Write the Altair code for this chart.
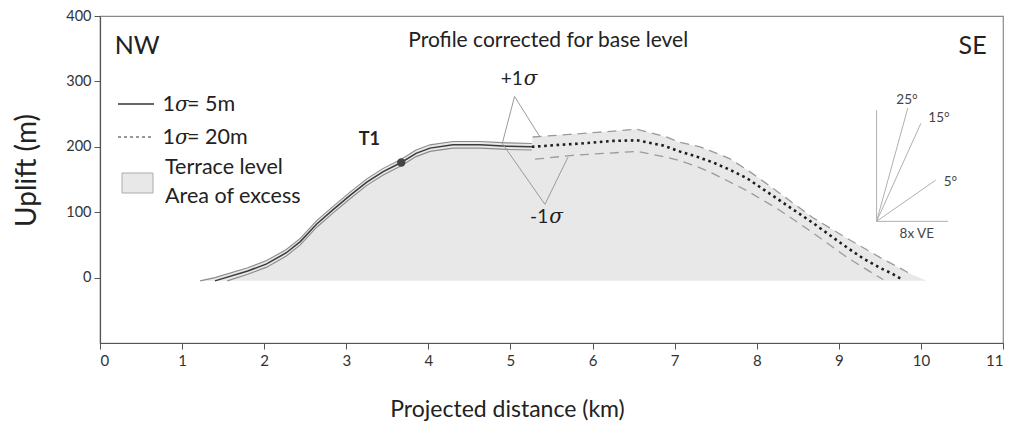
import altair as alt
import pandas as pd

# ---- Profile data (distance in km, uplift in m) ----
# Terrace profile, well-constrained part (1 sigma = 5 m)
solid_x = [1.40, 1.80, 2.03, 2.27, 2.44, 2.64, 2.84, 3.05, 3.25, 3.45, 3.67, 3.85, 4.02, 4.30, 4.63, 4.96, 5.26]
solid_y = [-5, 10, 21, 38, 55, 82, 104, 126, 146, 162, 176, 190, 198, 203, 203, 201, 200]
SIGMA_SOLID = 5
band_upper_start = (1.22, -5)
band_lower_start = (1.55, -5)

# Terrace profile, poorly-constrained part (1 sigma = 20 m)
dot_x = [5.26, 5.60, 5.85, 6.25, 6.54, 6.86, 7.06, 7.27, 7.47, 7.67, 7.88, 8.08, 8.28, 8.48, 8.68, 8.90, 9.10, 9.30, 9.50, 9.65, 9.77]
dot_y = [200, 203, 205, 209, 210, 202, 193, 185, 176, 165, 152, 135, 118, 101, 84, 64, 46, 29, 15, 6, -3]

up_x = [5.27, 5.72, 6.05, 6.54, 6.90, 7.06, 7.31, 7.67, 7.95, 8.28, 8.68, 9.10, 9.50, 9.87]
up_y = [215, 219, 222, 227, 215, 207, 200, 182, 159, 129, 92, 60, 31, 6]

lo_x = [5.30, 5.76, 6.54, 6.90, 7.06, 7.27, 7.47, 7.88, 8.28, 8.68, 9.10, 9.42, 9.54]
lo_y = [181, 187, 193, 184, 179, 170, 159, 133, 103, 69, 31, 6, -3]

BASE = -5
fill_end = (10.07, -5)

# Terrace point T1
t1 = (3.67, 176)

# Sigma callout polylines: end, apex, end
plus_pts = [(4.90, 205), (5.05, 277), (5.36, 215)]
minus_pts = [(4.89, 207), (5.42, 112), (5.70, 184)]

# Slope reference fan (8x vertical exaggeration)
fan_origin = (9.46, 86)
fan_ends = [(9.46, 256), (10.33, 86), (9.84, 259), (10.00, 236), (10.18, 149)]
fan_labels = ["25°", "15°", "5°", "8x VE"]
fan_label_pos = [(9.83, 272), (10.22, 244), (10.36, 146), (9.95, 67)]

x_ticks = list(range(0, 12))
y_ticks = [0, 100, 200, 300, 400]

FONT = "Lato"
SERIF = "DejaVu Serif"

# ---- Derived tables ----
center = pd.DataFrame({"x": solid_x, "y": solid_y})
band_up = pd.DataFrame(
    {"x": [band_upper_start[0]] + solid_x, "y": [band_upper_start[1]] + [v + SIGMA_SOLID for v in solid_y]}
)
lo_pairs = [(a, b - SIGMA_SOLID) for a, b in zip(solid_x, solid_y) if a > band_lower_start[0]]
band_lo = pd.DataFrame(
    {"x": [band_lower_start[0]] + [p[0] for p in lo_pairs], "y": [band_lower_start[1]] + [p[1] for p in lo_pairs]}
)
fill_df = pd.DataFrame({
    "x": list(band_up["x"]) + up_x + [fill_end[0]],
    "y": list(band_up["y"]) + up_y + [fill_end[1]],
})
dotted = pd.DataFrame({"x": dot_x, "y": dot_y})
upper = pd.DataFrame({"x": up_x, "y": up_y})
lower = pd.DataFrame({"x": lo_x, "y": lo_y})


def poly(pts):
    return pd.DataFrame({"x": [p[0] for p in pts], "y": [p[1] for p in pts], "o": list(range(len(pts)))})


xs = alt.Scale(domain=[0, 11], nice=False, zero=False)
ys = alt.Scale(domain=[-100, 400], nice=False, zero=False)
X = alt.X("x:Q", scale=xs, axis=alt.Axis(
    values=x_ticks, format="d", title="Projected distance (km)",
    labelFontSize=15, labelPadding=4,
    titleFontSize=23, titleX=407, titleY=73, titleAlign="center", titleBaseline="alphabetic"))
Y = alt.Y("y:Q", scale=ys, axis=alt.Axis(
    values=y_ticks, format="d", title="Uplift (m)",
    labelFontSize=14.5, labelPadding=3,
    titleFontSize=28, titleX=-65, titleY=154, titleBaseline="alphabetic"))
Xn = alt.X("x:Q", scale=xs)
Yn = alt.Y("y:Q", scale=ys)

area = alt.Chart(fill_df).mark_area(color="#e8e8e8", opacity=1).encode(x=X, y=Y, y2=alt.datum(BASE))

band_u = alt.Chart(band_up).mark_line(color="#8c8c8c", strokeWidth=1.1).encode(x=Xn, y=Yn)
band_l = alt.Chart(band_lo).mark_line(color="#8c8c8c", strokeWidth=1.1).encode(x=Xn, y=Yn)
center_line = alt.Chart(center).mark_line(color="#3a3a3a", strokeWidth=1.5).encode(x=Xn, y=Yn)

up_line = alt.Chart(upper).mark_line(color="#9a9a9a", strokeWidth=1.3, strokeDash=[9, 6]).encode(x=Xn, y=Yn)
lo_line = alt.Chart(lower).mark_line(color="#9a9a9a", strokeWidth=1.3, strokeDash=[9, 6]).encode(x=Xn, y=Yn)
dot_line = alt.Chart(dotted).mark_line(color="#1e1e1e", strokeWidth=2.6, strokeDash=[2.6, 3.6]).encode(x=Xn, y=Yn)

plus_line = alt.Chart(poly(plus_pts)).mark_line(color="#9a9a9a", strokeWidth=1).encode(x=Xn, y=Yn, order="o:Q")
minus_line = alt.Chart(poly(minus_pts)).mark_line(color="#9a9a9a", strokeWidth=1).encode(x=Xn, y=Yn, order="o:Q")

fan_df = pd.DataFrame({
    "x": [fan_origin[0]] * len(fan_ends), "y": [fan_origin[1]] * len(fan_ends),
    "x2": [p[0] for p in fan_ends], "y2": [p[1] for p in fan_ends],
})
fan = alt.Chart(fan_df).mark_rule(color="#b0b0b0", strokeWidth=1).encode(
    x=Xn, y=Yn, x2="x2:Q", y2="y2:Q")
fan_text = alt.Chart(pd.DataFrame({
    "x": [p[0] for p in fan_label_pos], "y": [p[1] for p in fan_label_pos], "t": fan_labels,
})).mark_text(font=FONT, fontSize=13.5, color="#444", align="center", baseline="middle").encode(
    x=Xn, y=Yn, text="t:N")

t1_point = alt.Chart(pd.DataFrame({"x": [t1[0]], "y": [t1[1]]})).mark_point(
    filled=True, size=70, color="#444", opacity=1).encode(x=Xn, y=Yn)


def label(x, y, text, size, align="left", weight="normal", font=FONT, style="normal", color="#222", dx=0):
    return alt.Chart(pd.DataFrame({"x": [x], "y": [y], "t": [text]})).mark_text(
        font=font, fontSize=size, align=align, baseline="middle", fontWeight=weight,
        fontStyle=style, color=color, dx=dx).encode(x=Xn, y=Yn, text="t:N")


texts = [
    label(0.18, 354, "NW", 25),
    label(10.80, 354, "SE", 25, align="right"),
    label(5.46, 362, "Profile corrected for base level", 21, align="center"),
    label(3.28, 210, "T1", 18, align="center", weight="bold"),
    label(5.15, 303, "+1", 19, align="right"),
    label(5.15, 303, "σ", 20, font=SERIF, style="italic", dx=1),
    label(5.46, 92, "-1", 19, align="right"),
    label(5.46, 92, "σ", 20, font=SERIF, style="italic", dx=1),
]


# ---- Legend (pixel positions inside the plot area) ----
def ptext(px, py, text, size, font=FONT, style="normal", align="left"):
    return alt.Chart(pd.DataFrame({"t": [text]})).mark_text(
        font=font, fontSize=size, align=align, baseline="middle", fontStyle=style, color="#222").encode(
        x=alt.value(px), y=alt.value(py), text="t:N")


leg_solid = alt.Chart(pd.DataFrame({"a": [0]})).mark_rule(color="#333", strokeWidth=1.3).encode(
    x=alt.value(18), x2=alt.value(54), y=alt.value(88))
leg_dash = alt.Chart(pd.DataFrame({"a": [0]})).mark_rule(color="#333", strokeWidth=1.2, strokeDash=[3, 3]).encode(
    x=alt.value(18), x2=alt.value(51), y=alt.value(121))
leg_box = alt.Chart(pd.DataFrame({"a": [0]})).mark_rect(fill="#e8e8e8", stroke="#aaa", strokeWidth=1).encode(
    x=alt.value(22), x2=alt.value(53), y=alt.value(157), y2=alt.value(177))

legend = [
    leg_solid, leg_dash, leg_box,
    ptext(75, 89, "1", 21.5, align="right"), ptext(75, 89, "σ", 20, font=SERIF, style="italic"),
    ptext(87, 89, "= 5m", 21.5),
    ptext(75, 122, "1", 21.5, align="right"), ptext(75, 122, "σ", 20, font=SERIF, style="italic"),
    ptext(87, 122, "= 20m", 21.5),
    ptext(65, 152, "Terrace level", 21.5), ptext(65, 181, "Area of excess", 21.5),
]

chart = alt.layer(
    area, band_u, band_l, center_line, up_line, lo_line, dot_line,
    plus_line, minus_line, fan, fan_text, t1_point, *texts, *legend,
).properties(
    width=903, height=327,
    autosize=alt.AutoSizeParams(type="none"),
    padding={"left": 100, "top": 16, "right": 13, "bottom": 87},
    background="white",
).configure_view(
    stroke="#8a8a8a", strokeWidth=1.2,
).configure_axis(
    grid=False, domainColor="#555", domainWidth=1.2, tickColor="#555", tickSize=6,
    labelFont=FONT, labelColor="#333",
    titleFont=FONT, titleFontWeight="normal", titleColor="#222",
)

chart.save("out.html", embed_options={"renderer": "svg", "actions": False})
